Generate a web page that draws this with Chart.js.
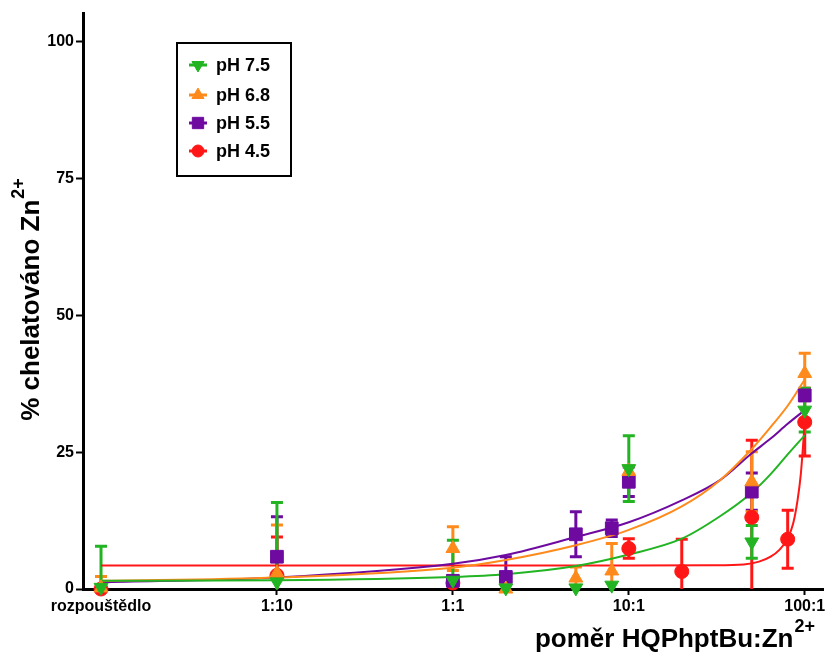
<!DOCTYPE html>
<html>
<head>
<meta charset="utf-8">
<script src="https://cdn.jsdelivr.net/npm/chart.js@4.4.1/dist/chart.umd.min.js"></script>
<style>
  html, body { margin: 0; padding: 0; background: #fff; }
  canvas { display: block; }
</style>
</head>
<body>
<canvas id="chart" width="826" height="657"></canvas>
<script>
// Axis ticks
const tickValues = [0.01, 0.1, 1, 10, 100];
const tickLabels = ['rozpouštědlo', '1:10', '1:1', '10:1', '100:1'];
const yTicks = [0, 25, 50, 75, 100];

const seriesLabels = ['pH 7.5', 'pH 6.8', 'pH 5.5', 'pH 4.5'];
const seriesColors = ['#22b422', '#ff8a1c', '#6e0aa0', '#ff1616'];

// Measured points (mean +/- SD), null = no visible point
const ratioA = [0.01, 0.1, 1, 2, 5, 8, 10, 50, 100];
const ph75Mean = [0.3, 1.3, 1.6, 0.2, 0.2, 0.7, 22.0, 8.6, 32.7];
const ph75Sd = [7.5, 14.5, 7.3, 0, 0, 0, 6.0, 3.0, 4.0];
const ph68Mean = [0.2, 2.9, 7.4, 0, 2.0, 3.3, 21.5, 19.6, 39.4];
const ph68Sd = [2.1, 8.8, 4.0, 0, 2.0, 5.0, 1.0, 5.5, 3.7];
const ph55Mean = [null, 5.9, 1.5, 2.2, 10.0, 11.1, 19.6, 17.8, 35.4];
const ph55Sd = [0, 7.3, 0.5, 3.7, 4.1, 1.5, 2.7, 3.4, 1.0];
const ratioB = [0.01, 0.1, 1, 10, 20, 50, 80, 100];
const ph45Mean = [0, 2.5, 1.1, 7.4, 3.2, 13.1, 9.1, 30.5];
const ph45Sd = [0, 7.0, 0.5, 1.8, 5.9, 14.1, 5.3, 6.2];

// Fitted curves
const fitX = [0.01, 0.1, 1, 2, 5, 10, 20, 33, 50, 64, 80, 100];
const fit75 = [1.5, 1.6, 2.2, 2.7, 4.2, 6.3, 9.2, 13.3, 17.6, 21.0, 24.6, 28.1];
const fit68 = [1.5, 2.1, 3.9, 5.3, 8.0, 10.8, 15.1, 19.9, 25.6, 29.6, 33.5, 38.3];
const fit55 = [1.2, 2.1, 4.6, 6.2, 9.5, 12.2, 16.2, 19.9, 24.8, 27.5, 30.2, 32.7];
const fitXRed = [0.01, 1, 10, 30, 45, 55, 64, 72, 80, 86, 91, 95, 100];
const fit45 = [4.3, 4.3, 4.3, 4.35, 4.5, 5.0, 5.9, 7.2, 9.2, 12.0, 16.2, 21.0, 30.5];

const FONT = "'Liberation Sans', Arial, sans-serif";

const pts = (xs, ys) => xs.map((x, i) => ({ x: x, y: ys[i] }));

const series = [
    { x: ratioA, mean: ph75Mean, sd: ph75Sd, fx: fitX, fy: fit75, style: 'triangle', rot: 180, r: 8 },
    { x: ratioA, mean: ph68Mean, sd: ph68Sd, fx: fitX, fy: fit68, style: 'triangle', rot: 0, r: 8 },
    { x: ratioA, mean: ph55Mean, sd: ph55Sd, fx: fitX, fy: fit55, style: 'rect', rot: 0, r: 9 },
    { x: ratioB, mean: ph45Mean, sd: ph45Sd, fx: fitXRed, fy: fit45, style: 'circle', rot: 0, r: 7 }
];

const datasets = [];
series.forEach((s, i) => {
    datasets.push({
        label: seriesLabels[i],
        data: pts(s.x, s.mean),
        showLine: false,
        pointStyle: s.style,
        rotation: s.rot,
        pointRadius: s.r,
        backgroundColor: seriesColors[i],
        borderColor: seriesColors[i],
        borderWidth: 1,
        clip: false
    });
});
series.forEach((s, i) => {
    datasets.push({
        label: seriesLabels[i] + ' fit',
        data: pts(s.fx, s.fy),
        showLine: true,
        pointRadius: 0,
        borderColor: seriesColors[i],
        borderWidth: 2,
        cubicInterpolationMode: 'monotone',
        fill: false,
        clip: false
    });
});

// error bars, clipped at the x axis like the original
const errorBars = {
    id: 'errorBars',
    beforeDatasetsDraw(chart) {
        const ctx = chart.ctx;
        const xs = chart.scales.x, ys = chart.scales.y;
        ctx.save();
        ctx.lineWidth = 3;
        for (let i = series.length - 1; i >= 0; i--) {
            const s = series[i];
            ctx.strokeStyle = seriesColors[i];
            s.x.forEach((xv, j) => {
                const sd = s.sd[j];
                if (!sd || s.mean[j] === null) return;
                const px = xs.getPixelForValue(xv);
                const hi = s.mean[j] + sd, lo = s.mean[j] - sd;
                const pHi = ys.getPixelForValue(hi);
                const pLo = ys.getPixelForValue(Math.max(lo, 0));
                ctx.beginPath();
                ctx.moveTo(px, pHi); ctx.lineTo(px, pLo);
                ctx.moveTo(px - 6, pHi); ctx.lineTo(px + 6, pHi);
                if (lo > 0) { ctx.moveTo(px - 6, pLo); ctx.lineTo(px + 6, pLo); }
                ctx.stroke();
            });
        }
        ctx.restore();
    }
};

// legend box, axis titles with superscripts
const decorations = {
    id: 'decorations',
    afterDraw(chart) {
        const ctx = chart.ctx;
        const h = Chart.helpers;
        ctx.save();
        // legend
        ctx.strokeStyle = '#000';
        ctx.lineWidth = 2;
        ctx.strokeRect(177, 43, 114, 133);
        const rows = [65, 95, 123, 151];
        series.forEach((s, i) => {
            const y = rows[i];
            ctx.strokeStyle = seriesColors[i];
            ctx.fillStyle = seriesColors[i];
            ctx.lineWidth = 3;
            ctx.beginPath();
            ctx.moveTo(189, y); ctx.lineTo(207, y);
            ctx.stroke();
            ctx.lineWidth = 1;
            h.drawPoint(ctx, { pointStyle: s.style, rotation: s.rot, radius: s.r - 1, borderWidth: 1 }, 198, y);
            ctx.fillStyle = '#000';
            ctx.font = 'bold 18px ' + FONT;
            ctx.textBaseline = 'middle';
            ctx.textAlign = 'left';
            ctx.fillText(seriesLabels[i], 216, y + 1);
        });

        // x title
        ctx.fillStyle = '#000';
        ctx.textBaseline = 'alphabetic';
        ctx.textAlign = 'left';
        ctx.font = 'bold 26px ' + FONT;
        const xMain = 'poměr HQPhptBu:Zn';
        const wMain = ctx.measureText(xMain).width;
        ctx.font = 'bold 18px ' + FONT;
        const wSup = ctx.measureText('2+').width;
        const x0 = 814 - wMain - wSup;
        ctx.font = 'bold 26px ' + FONT;
        ctx.fillText(xMain, x0, 647);
        ctx.font = 'bold 18px ' + FONT;
        ctx.fillText('2+', x0 + wMain + 1, 632);

        // y title
        ctx.translate(39, 300);
        ctx.rotate(-Math.PI / 2);
        ctx.font = 'bold 26px ' + FONT;
        const yMain = '% chelatováno Zn';
        const wy = ctx.measureText(yMain).width;
        ctx.font = 'bold 18px ' + FONT;
        const wys = ctx.measureText('2+').width;
        const start = -(wy + wys) / 2;
        ctx.font = 'bold 26px ' + FONT;
        ctx.fillText(yMain, start, 0);
        ctx.font = 'bold 18px ' + FONT;
        ctx.fillText('2+', start + wy + 1, -15);
        ctx.restore();
    }
};

new Chart(document.getElementById('chart'), {
    type: 'scatter',
    data: { datasets: datasets },
    options: {
        responsive: false,
        animation: false,
        layout: { autoPadding: false, padding: { top: 13, right: 3, left: 0, bottom: 0 } },
        plugins: { legend: { display: false }, tooltip: { enabled: false } },
        scales: {
            x: {
                type: 'logarithmic',
                min: 0.0079,
                max: 127,
                bounds: 'data',
                afterBuildTicks: s => { s.ticks = tickValues.map(v => ({ value: v })); },
                afterFit: s => { s.height = 68; s.paddingLeft = 0; s.paddingRight = 0; },
                ticks: {
                    callback: (v, i) => tickLabels[i],
                    autoSkip: false,
                    maxRotation: 0,
                    color: '#000',
                    padding: 2,
                    font: { family: FONT, size: 16, weight: 'bold' }
                },
                grid: { drawOnChartArea: false, drawTicks: true, tickLength: 6, tickWidth: 2, tickColor: '#000' },
                border: { color: '#000', width: 3 }
            },
            y: {
                min: 0,
                max: 105.3,
                afterBuildTicks: s => { s.ticks = yTicks.map(v => ({ value: v })); },
                afterFit: s => { s.width = 83; },
                ticks: {
                    color: '#000',
                    padding: 2,
                    font: { family: FONT, size: 16, weight: 'bold' }
                },
                grid: { drawOnChartArea: false, drawTicks: true, tickLength: 7, tickWidth: 2, tickColor: '#000' },
                border: { color: '#000', width: 3 }
            }
        }
    },
    plugins: [errorBars, decorations]
});
</script>
</body>
</html>
